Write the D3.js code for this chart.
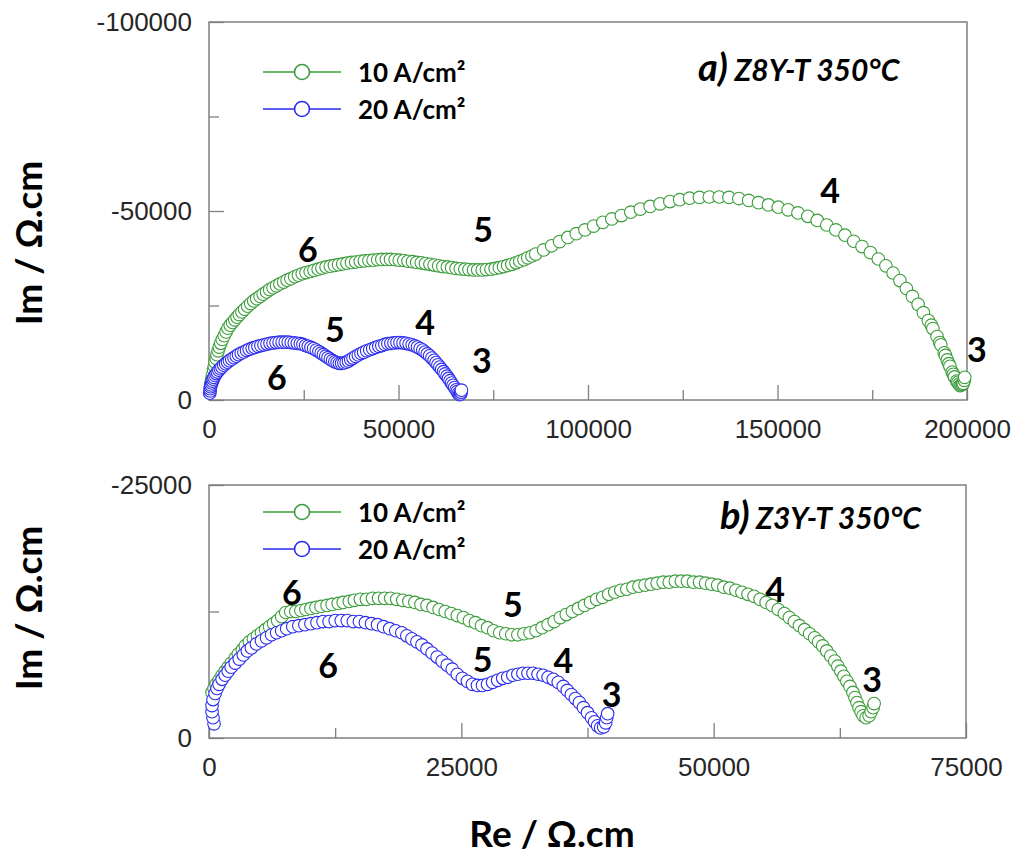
<!DOCTYPE html>
<html><head><meta charset="utf-8">
<script src="https://cdn.jsdelivr.net/npm/d3@7"></script>
<style>html,body{margin:0;padding:0;background:#fff;} svg{display:block;}</style>
</head><body>
<script>
// ---------------- DATA ----------------
const seriesNames = ["10 A/cm²", "20 A/cm²"];
const seriesColors = ["#3a9c3a", "#2b2bef"];

// Panel a) Z8Y-T 350°C, [Re, Im] in Ω.cm
const z8y_10 = [[500,-4500],[700,-5500],[900,-6600],[1200,-8000],[1400,-9000],[1600,-10000],[1900,-11000],[2100,-12000],[2400,-13000],[2700,-14000],[3100,-15000],[3500,-16000],[4000,-17000],[4500,-18000],[5000,-19000],[5600,-19800],[6200,-20500],[6800,-21200],[7400,-21900],[8000,-22600],[8700,-23300],[9400,-24000],[10200,-24800],[11000,-25500],[11800,-26200],[12600,-26800],[13500,-27400],[14300,-28000],[15200,-28600],[16000,-29200],[16900,-29700],[17800,-30200],[18700,-30700],[19700,-31200],[20600,-31700],[21600,-32100],[22600,-32600],[23600,-33000],[24600,-33400],[25600,-33700],[26700,-34000],[27700,-34300],[28800,-34600],[29800,-34900],[30900,-35200],[32000,-35400],[33100,-35600],[34200,-35800],[35300,-36000],[36400,-36200],[37600,-36400],[38700,-36500],[39900,-36700],[41000,-36800],[42200,-36900],[43300,-37000],[44500,-37100],[45600,-37200],[46800,-37200],[47900,-37200],[49100,-37100],[50200,-37000],[51400,-36900],[52500,-36700],[53700,-36600],[54800,-36400],[56000,-36300],[57100,-36100],[58300,-35900],[59400,-35700],[60600,-35500],[61700,-35300],[62900,-35200],[64000,-35000],[65200,-34800],[66300,-34700],[67500,-34600],[68600,-34500],[69800,-34400],[70900,-34400],[72100,-34400],[73200,-34500],[74400,-34600],[75500,-34800],[76600,-35000],[77700,-35300],[78800,-35600],[79900,-35900],[81000,-36300],[82000,-36700],[83100,-37100],[84100,-37600],[85200,-38100],[86200,-38600],[88300,-39700],[90400,-40800],[92500,-41900],[94700,-43000],[96900,-44000],[99200,-45000],[101500,-46000],[103900,-47000],[106300,-47900],[108800,-48800],[111300,-49700],[113800,-50500],[116400,-51200],[119000,-51900],[121600,-52500],[124200,-53000],[126800,-53400],[129400,-53600],[132000,-53700],[134600,-53700],[137200,-53600],[139800,-53300],[142400,-52800],[145000,-52200],[147600,-51600],[150200,-51000],[152800,-50300],[155400,-49500],[158000,-48600],[160500,-47500],[163000,-46300],[165400,-45000],[167800,-43600],[170100,-42000],[172300,-40600],[174500,-39000],[176600,-37300],[178600,-35500],[180500,-33600],[182300,-31600],[184000,-29500],[185600,-27400],[187100,-25300],[188500,-23100],[189800,-21000],[190600,-19800],[191000,-18900],[192100,-16800],[192800,-15200],[193100,-14600],[194000,-12500],[194300,-11800],[194800,-10600],[195200,-9600],[195500,-8900],[196100,-7400],[196400,-6800],[196700,-6100],[197300,-5000],[197600,-4700],[197900,-4200],[198200,-3800],[198500,-4000],[198800,-4100],[199000,-4400],[199300,-5200],[199400,-6000]];

const z8y_20 = [[200,-1800],[300,-2400],[300,-3000],[400,-3500],[500,-4000],[700,-4500],[900,-5000],[1100,-5500],[1300,-6000],[1600,-6500],[1900,-7000],[2200,-7400],[2600,-7900],[3000,-8300],[3400,-8700],[3900,-9200],[4400,-9600],[4900,-10000],[5400,-10400],[6000,-10800],[6600,-11200],[7200,-11600],[7800,-12000],[8500,-12400],[9200,-12700],[9900,-13100],[10600,-13400],[11400,-13700],[12100,-13900],[12900,-14200],[13700,-14400],[14500,-14600],[15300,-14800],[16100,-15000],[16900,-15100],[17700,-15200],[18500,-15300],[19300,-15300],[20100,-15300],[20900,-15300],[21700,-15200],[22500,-15100],[23300,-15000],[24100,-14900],[24800,-14700],[25500,-14400],[26200,-14200],[26900,-13900],[27600,-13600],[28300,-13200],[29000,-12800],[29600,-12400],[30200,-12000],[30800,-11600],[31400,-11200],[32000,-10800],[32600,-10400],[33200,-10100],[33800,-9900],[34400,-9700],[35000,-9700],[35600,-9800],[36200,-10000],[36800,-10300],[37400,-10700],[38000,-11100],[38700,-11500],[39400,-11900],[40100,-12300],[40800,-12600],[41600,-13000],[42400,-13300],[43200,-13600],[44000,-13900],[44800,-14200],[45600,-14400],[46400,-14700],[47200,-14900],[48000,-15000],[48800,-15100],[49600,-15200],[50400,-15200],[51200,-15100],[52000,-15000],[52800,-14800],[53600,-14600],[54300,-14300],[55000,-14000],[55700,-13600],[56400,-13200],[57000,-12700],[57600,-12200],[58200,-11700],[58800,-11100],[59400,-10500],[59900,-9900],[60400,-9300],[60900,-8700],[61400,-8100],[61900,-7500],[62300,-6900],[62800,-6300],[63200,-5700],[63600,-5100],[64000,-4500],[64400,-3900],[64800,-3300],[65200,-2700],[65500,-2200],[65800,-1700],[66100,-1400],[66400,-1600],[66500,-2100],[66600,-2600]];

// Panel b) Z3Y-T 350°C
const z3y_10 = [[300,-4500],[500,-4900],[700,-5300],[1000,-5700],[1300,-6200],[1600,-6600],[1900,-7000],[2200,-7400],[2600,-7900],[2900,-8300],[3300,-8700],[3600,-9100],[4000,-9500],[4400,-9800],[4800,-10100],[5200,-10400],[5600,-10700],[6000,-11000],[6400,-11300],[6800,-11600],[7200,-12000],[7600,-12400],[8100,-12500],[8600,-12500],[9100,-12600],[9600,-12700],[10100,-12800],[10600,-12900],[11100,-13000],[11700,-13100],[12200,-13200],[12800,-13300],[13300,-13400],[13900,-13500],[14400,-13600],[15000,-13700],[15600,-13700],[16200,-13800],[16800,-13800],[17400,-13800],[18000,-13800],[18600,-13700],[19200,-13600],[19800,-13500],[20400,-13400],[21000,-13200],[21600,-13100],[22200,-12900],[22800,-12700],[23400,-12500],[24000,-12300],[24600,-12100],[25200,-11900],[25800,-11600],[26400,-11400],[27000,-11100],[27600,-10900],[28200,-10600],[28800,-10400],[29400,-10300],[30000,-10200],[30600,-10200],[31200,-10300],[31800,-10400],[32400,-10600],[33000,-10900],[33600,-11200],[34200,-11500],[34800,-11900],[35400,-12200],[36000,-12500],[36600,-12800],[37200,-13100],[37800,-13400],[38400,-13700],[39000,-13900],[39600,-14200],[40200,-14400],[40800,-14600],[41400,-14700],[42000,-14900],[42600,-15000],[43200,-15100],[43800,-15200],[44400,-15300],[45000,-15400],[45600,-15400],[46200,-15500],[46800,-15500],[47400,-15500],[48000,-15400],[48600,-15400],[49200,-15300],[49800,-15200],[50400,-15100],[51000,-14900],[51600,-14800],[52200,-14600],[52800,-14400],[53400,-14200],[54000,-14000],[54600,-13700],[55200,-13400],[55800,-13100],[56400,-12700],[57000,-12300],[57500,-11900],[58000,-11500],[58500,-11100],[59000,-10700],[59500,-10300],[60000,-9900],[60400,-9500],[60800,-9100],[61200,-8600],[61600,-8100],[62000,-7600],[62300,-7100],[62600,-6600],[62900,-6100],[63200,-5600],[63500,-5100],[63800,-4500],[64000,-4000],[64200,-3500],[64400,-3000],[64600,-2600],[64800,-2200],[65100,-2000],[65400,-2200],[65600,-2600],[65800,-3000],[65900,-3400]];

const z3y_20 = [[500,-1400],[400,-2000],[300,-2600],[300,-3200],[400,-3800],[600,-4400],[800,-4900],[1000,-5300],[1300,-5800],[1600,-6200],[1900,-6600],[2200,-7000],[2600,-7400],[3000,-7800],[3400,-8200],[3800,-8600],[4200,-8900],[4700,-9300],[5200,-9600],[5700,-9900],[6200,-10200],[6700,-10400],[7200,-10600],[7700,-10800],[8300,-11000],[8900,-11100],[9500,-11200],[10100,-11300],[10700,-11400],[11300,-11500],[11900,-11500],[12500,-11600],[13100,-11600],[13700,-11600],[14300,-11500],[14900,-11500],[15500,-11400],[16100,-11300],[16700,-11200],[17300,-11000],[17900,-10800],[18500,-10600],[19100,-10400],[19600,-10100],[20100,-9800],[20600,-9500],[21100,-9200],[21600,-8800],[22100,-8400],[22600,-8000],[23100,-7600],[23600,-7200],[24100,-6800],[24600,-6300],[25100,-5900],[25600,-5600],[26100,-5300],[26600,-5200],[27100,-5200],[27600,-5300],[28100,-5500],[28600,-5700],[29100,-5900],[29600,-6000],[30100,-6200],[30600,-6300],[31100,-6400],[31600,-6400],[32100,-6400],[32600,-6300],[33100,-6200],[33600,-6000],[34100,-5800],[34600,-5500],[35100,-5100],[35500,-4700],[35900,-4300],[36300,-3900],[36700,-3500],[37100,-3000],[37500,-2500],[37900,-2000],[38200,-1600],[38500,-1200],[38800,-1000],[39100,-1100],[39300,-1500],[39400,-2000],[39500,-2400]];

// Ticks
const aXMajor = [0, 50000, 100000, 150000, 200000];
const aXMinor = [25000, 75000, 125000, 175000];
const aYMajor = [0, -50000, -100000];
const aYMinor = [-25000, -75000];
const bXMajor = [0, 25000, 50000, 75000];
const bXMinor = [12500, 37500, 62500];
const bYMajor = [0, -25000];
const bYMinor = [-12500];

// Annotations [label, Re, Im]
const aNotes = [["6",26100,-36500],["5",72300,-41800],["4",163900,-52100],["3",202600,-10000],
                ["5",33200,-15300],["4",57000,-17200],["3",72000,-7100],["6",17900,-2600]];
const bNotes = [["6",8200,-13100],["6",11800,-5900],["5",27100,-6500],["5",30100,-12000],
                ["4",35100,-6400],["3",39900,-3100],["4",56100,-13400],["3",65700,-4500]];

// ---------------- DRAW ----------------
const svg = d3.select("body").append("svg").attr("width",1014).attr("height",856);

const panels = [
  {x:[0,200000], y:[0,-100000], l:209, r:967, t:22, b:400,
   xMaj:aXMajor, xMin:aXMinor, yMaj:aYMajor, yMin:aYMinor,
   series:[z8y_10, z8y_20], notes:aNotes, title:["a)"," Z8Y-T 350°C"], tx:698, ty:81,
   leg:[72,109], ylabY:243},
  {x:[0,75000], y:[0,-25000], l:209, r:966, t:485, b:738,
   xMaj:bXMajor, xMin:bXMinor, yMaj:bYMajor, yMin:bYMinor,
   series:[z3y_10, z3y_20], notes:bNotes, title:["b)"," Z3Y-T 350°C"], tx:720, ty:529,
   leg:[512,549], ylabY:608}
];

const tickFont = "'Liberation Sans', Arial, sans-serif";
const boldFont = "Lato, 'Open Sans', sans-serif";
const fmt = d => String(d);

panels.forEach(p => {
  const x = d3.scaleLinear().domain(p.x).range([p.l, p.r]);
  const y = d3.scaleLinear().domain(p.y).range([p.b, p.t]);
  const g = svg.append("g");

  // minor ticks
  g.append("g").attr("transform",`translate(0,${p.b})`)
    .call(d3.axisBottom(x).tickValues(p.xMin).tickSizeInner(-10).tickSizeOuter(0).tickFormat(""))
    .call(s => s.select(".domain").remove());
  g.append("g").attr("transform",`translate(${p.l},0)`)
    .call(d3.axisLeft(y).tickValues(p.yMin).tickSizeInner(-10).tickSizeOuter(0).tickFormat(""))
    .call(s => s.select(".domain").remove());
  // major ticks + labels
  g.append("g").attr("transform",`translate(0,${p.b})`)
    .call(d3.axisBottom(x).tickValues(p.xMaj).tickSizeInner(-15).tickSizeOuter(0).tickPadding(20).tickFormat(fmt))
    .call(s => s.select(".domain").remove());
  g.append("g").attr("transform",`translate(${p.l},0)`)
    .call(d3.axisLeft(y).tickValues(p.yMaj).tickSizeInner(-15).tickSizeOuter(0).tickPadding(17).tickFormat(fmt))
    .call(s => s.select(".domain").remove());
  g.selectAll(".tick line").attr("stroke","#7f7f7f").attr("stroke-width",1.3);
  g.selectAll(".tick text").attr("font-family",tickFont).attr("font-size",26).attr("fill","#262626");

  // frame
  g.append("rect").attr("x",p.l).attr("y",p.t).attr("width",p.r-p.l).attr("height",p.b-p.t)
    .attr("fill","none").attr("stroke","#7f7f7f").attr("stroke-width",1.5);

  // series
  p.series.forEach((data,i) => {
    g.append("g").selectAll("circle").data(data).join("circle")
      .attr("cx",d=>x(d[0])).attr("cy",d=>y(d[1])).attr("r",6.3)
      .attr("fill","#fff").attr("stroke",seriesColors[i]).attr("stroke-width",1.1);
  });

  // annotations
  g.append("g").selectAll("text").data(p.notes).join("text")
    .attr("x",d=>x(d[1])).attr("y",d=>y(d[2])).attr("text-anchor","middle")
    .attr("font-family",boldFont).attr("font-weight","bold").attr("font-size",34).attr("fill","#000")
    .text(d=>d[0]);

  // title
  const tt = g.append("text").attr("x",p.tx).attr("y",p.ty).attr("font-family",boldFont)
    .attr("font-weight","bold").attr("font-style","italic").attr("fill","#000");
  tt.append("tspan").attr("font-size",38).text(p.title[0]);
  tt.append("tspan").attr("font-size",30).text(p.title[1]);

  // legend
  seriesNames.forEach((nm,i) => {
    const ly = p.leg[i];
    g.append("line").attr("x1",263).attr("x2",341).attr("y1",ly).attr("y2",ly)
      .attr("stroke",seriesColors[i]).attr("stroke-width",1.6);
    g.append("circle").attr("cx",302).attr("cy",ly).attr("r",7.5)
      .attr("fill","#fff").attr("stroke",seriesColors[i]).attr("stroke-width",1.6);
    g.append("text").attr("x",358).attr("y",ly+10).attr("font-family",boldFont)
      .attr("font-weight","bold").attr("font-size",26).attr("fill","#000").text(nm);
  });

  // y-axis title
  g.append("text").attr("transform",`translate(42,${p.ylabY}) rotate(-90)`).attr("text-anchor","middle")
    .attr("font-family",boldFont).attr("font-weight","bold").attr("font-size",37).attr("fill","#000")
    .text("Im / Ω.cm");
});

svg.append("text").attr("x",552).attr("y",847).attr("text-anchor","middle")
  .attr("font-family",boldFont).attr("font-weight","bold").attr("font-size",37).attr("fill","#000")
  .text("Re / Ω.cm");
</script>
</body></html>
